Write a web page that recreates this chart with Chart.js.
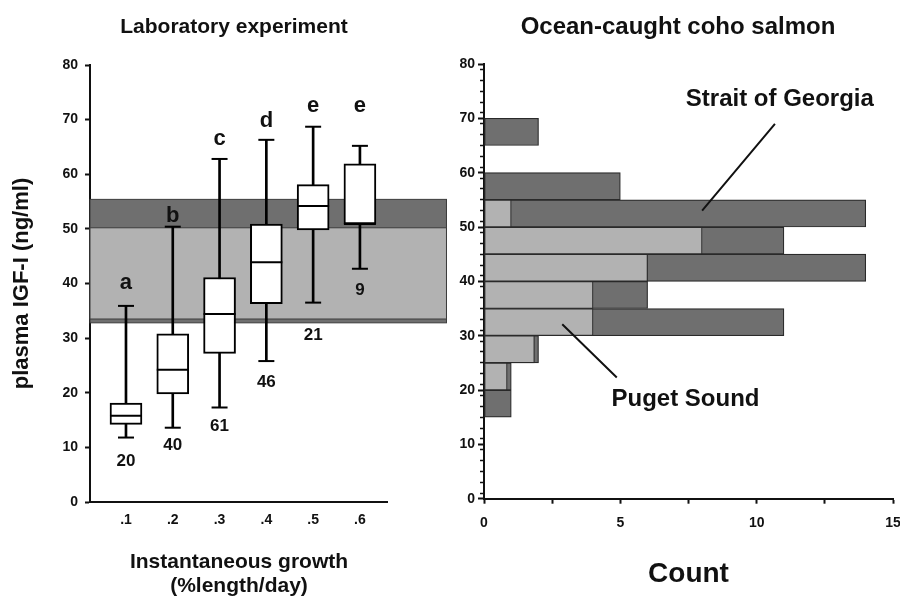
<!DOCTYPE html>
<html>
<head>
<meta charset="utf-8">
<title>IGF-I in coho salmon</title>
<script src="https://cdn.jsdelivr.net/npm/chart.js@4.4.1/dist/chart.umd.min.js"></script>
<style>
  html, body { margin: 0; padding: 0; background: #fff; }
  #wrap { position: relative; width: 900px; height: 598px; overflow: hidden; }
  #wrap canvas { position: absolute; top: 0; }
</style>
</head>
<body>
<div id="wrap">
  <canvas id="labChart" style="left:0px"></canvas>
  <canvas id="oceanChart" style="left:456px"></canvas>
</div>
<script>
// ---- laboratory experiment: box plots per growth class ----
const growthClasses = [0.1, 0.2, 0.3, 0.4, 0.5, 0.6];
const growthTickLabels = ['.1', '.2', '.3', '.4', '.5', '.6'];
const igfMin    = [11.8, 13.6, 17.3, 25.8, 36.5, 42.7];
const igfQ1     = [14.2, 19.8, 27.2, 36.3, 49.8, 50.9];
const igfMedian = [15.8, 24.2, 34.4, 43.9, 54.2, 50.9];
const igfQ3     = [18.1, 30.8, 41.1, 50.9, 58.1, 61.9];
const igfMax    = [35.9, 50.4, 62.8, 66.3, 68.7, 65.2];
const groupLetters = ['a', 'b', 'c', 'd', 'e', 'e'];
const groupN = [20, 40, 61, 46, 21, 9];
// where the annotations sit (ng/ml)
const letterAt = [40.1, 52.4, 66.5, 69.8, 72.5, 72.5];
const countAt  = [7.4, 10.3, 13.8, 22.0, 30.6, 38.7];

// ocean ranges shaded behind the box plots (ng/ml)
const georgiaRange = [32.8, 55.4];
const pugetRange   = [33.5, 50.2];

// ---- ocean-caught fish: histogram, 5 ng/ml bins ----
const binLow = [15, 20, 25, 30, 35, 40, 45, 50, 55, 60, 65];
const binWidth = 5;
const pugetCount   = [0, 0.85, 1.85, 4, 4, 6, 8, 1, 0, 0, 0];
const georgiaCount = [1, 1, 2, 11, 6, 14, 11, 14, 5, 0, 2];

const countTicks = [0, 5, 10, 15];

const FONT = '"Liberation Sans", Arial, Helvetica, sans-serif';
const DARK = '#6f6f6f';
const LIGHT = '#b2b2b2';
const EDGE = '#2a2a2a';

Chart.defaults.font.family = FONT;
Chart.defaults.font.weight = 'bold';
Chart.defaults.color = '#111';
Chart.defaults.animation = false;

// panel heading, placed by hand so it can sit off the plot centre
const panelTitle = {
  id: 'panelTitle',
  afterDraw(chart, args, opts) {
    const ctx = chart.ctx;
    ctx.save();
    ctx.fillStyle = '#111';
    ctx.font = 'bold ' + opts.size + 'px ' + FONT;
    ctx.textAlign = 'center';
    ctx.textBaseline = 'middle';
    ctx.fillText(opts.text, opts.x, opts.y);
    ctx.restore();
  }
};

// shaded bands + letters / n under the boxes
const labDecor = {
  id: 'labDecor',
  beforeDatasetsDraw(chart) {
    const {ctx, chartArea, scales: {x, y}} = chart;
    const right = x.getPixelForValue(0.785);
    const band = (r, fill) => {
      const top = y.getPixelForValue(r[1]);
      const bot = y.getPixelForValue(r[0]);
      ctx.fillStyle = fill;
      ctx.fillRect(chartArea.left, top, right - chartArea.left, bot - top);
      ctx.strokeStyle = '#3c3c3c';
      ctx.lineWidth = 1;
      ctx.strokeRect(chartArea.left, top, right - chartArea.left, bot - top);
    };
    ctx.save();
    band(georgiaRange, DARK);
    band(pugetRange, LIGHT);
    ctx.restore();
  },
  afterDatasetsDraw(chart) {
    const {ctx, scales: {x, y}} = chart;
    ctx.save();
    ctx.fillStyle = '#111';
    ctx.textAlign = 'center';
    ctx.textBaseline = 'middle';
    growthClasses.forEach((g, i) => {
      ctx.font = 'bold 22px ' + FONT;
      ctx.fillText(groupLetters[i], x.getPixelForValue(g), y.getPixelForValue(letterAt[i]));
      ctx.font = 'bold 17px ' + FONT;
      ctx.fillText(String(groupN[i]), x.getPixelForValue(g), y.getPixelForValue(countAt[i]));
    });
    // x axis line stops at the last class
    ctx.strokeStyle = '#111';
    ctx.lineWidth = 2;
    ctx.beginPath();
    ctx.moveTo(x.left, y.getPixelForValue(0));
    ctx.lineTo(x.right, y.getPixelForValue(0));
    ctx.stroke();
    ctx.restore();
  }
};

const boxData = growthClasses.map((g, i) => ({x: g, y: [igfQ1[i], igfQ3[i]]}));
const whiskerData = growthClasses.map((g, i) => ({x: g, y: [igfMin[i], igfMax[i]]}));
const capData = growthClasses.flatMap((g, i) => [{x: g, y: igfMin[i]}, {x: g, y: igfMax[i]}]);
const medianData = growthClasses.map((g, i) => ({x: g, y: igfMedian[i]}));

const labCanvas = document.getElementById('labChart');
labCanvas.width = 468; labCanvas.height = 598;
labCanvas.style.width = '468px'; labCanvas.style.height = '598px';

new Chart(labCanvas, {
  data: {
    datasets: [
      { type: 'scatter', label: 'median', data: medianData, order: 0,
        pointStyle: 'line', radius: 16, borderWidth: 2, borderColor: '#000' },
      { type: 'bar', label: 'box', data: boxData, order: 1, grouped: false,
        barThickness: 32, backgroundColor: '#fff', borderColor: '#000',
        borderWidth: 2, borderSkipped: false },
      { type: 'scatter', label: 'caps', data: capData, order: 2,
        pointStyle: 'line', radius: 8, borderWidth: 2, borderColor: '#000' },
      { type: 'bar', label: 'whisker', data: whiskerData, order: 3, grouped: false,
        barThickness: 2, backgroundColor: '#000', borderWidth: 0 }
    ]
  },
  options: {
    responsive: false,
    layout: { padding: { top: 65, right: 80 } },
    plugins: {
      legend: { display: false },
      tooltip: { enabled: false },
      title: { display: false },
      panelTitle: { text: 'Laboratory experiment', x: 234, y: 27, size: 21 }
    },
    scales: {
      x: {
        type: 'linear', min: 0.0231, max: 0.66, offset: false,
        afterBuildTicks: s => { s.ticks = growthClasses.map(v => ({value: v})); },
        afterFit: s => { s.height = 96; },
        ticks: {
          callback: (v) => growthTickLabels[growthClasses.indexOf(v)],
          font: { size: 14, weight: 'bold' }, padding: 10, maxRotation: 0
        },
        grid: { display: false, drawTicks: false, offset: false },
        border: { display: false },
        title: {
          display: true, text: ['Instantaneous growth', '(%length/day)'],
          font: { size: 21, weight: 'bold', lineHeight: 1.15 },
          padding: { bottom: 0 }, color: '#111'
        }
      },
      y: {
        min: 0, max: 80,
        afterFit: s => { s.width = 90; },
        ticks: { stepSize: 10, font: { size: 14, weight: 'bold' }, padding: 7 },
        grid: { drawOnChartArea: false, tickLength: 5, tickColor: '#111', tickWidth: 2 },
        border: { color: '#111', width: 2 },
        title: {
          display: true, text: 'plasma IGF-I (ng/ml)',
          font: { size: 22, weight: 'bold', lineHeight: 1.2 },
          padding: { top: 9 }, color: '#111'
        }
      }
    }
  },
  plugins: [labDecor, panelTitle]
});

// ---- histogram panel ----
const oceanNotes = {
  id: 'oceanNotes',
  afterDatasetsDraw(chart) {
    const {ctx, scales: {x, y}} = chart;
    ctx.save();
    ctx.fillStyle = '#111';
    ctx.strokeStyle = '#111';
    ctx.lineWidth = 2;
    ctx.textAlign = 'center';
    ctx.textBaseline = 'middle';
    ctx.font = 'bold 24px ' + FONT;
    ctx.fillText('Strait of Georgia', x.getPixelForValue(10.85), y.getPixelForValue(73.4));
    ctx.fillText('Puget Sound', x.getPixelForValue(7.39), y.getPixelForValue(18.2));
    ctx.beginPath();
    ctx.moveTo(x.getPixelForValue(10.67), y.getPixelForValue(69.0));
    ctx.lineTo(x.getPixelForValue(8.0), y.getPixelForValue(53.0));
    ctx.moveTo(x.getPixelForValue(2.87), y.getPixelForValue(32.1));
    ctx.lineTo(x.getPixelForValue(4.87), y.getPixelForValue(22.3));
    ctx.stroke();
    ctx.restore();
  }
};

const oceanCanvas = document.getElementById('oceanChart');
oceanCanvas.width = 494; oceanCanvas.height = 598;
oceanCanvas.style.width = '494px'; oceanCanvas.style.height = '598px';

new Chart(oceanCanvas, {
  type: 'bar',
  data: {
    datasets: [
      { label: 'Puget Sound', order: 0,
        data: binLow.map((b, i) => ({y: b + binWidth / 2, x: pugetCount[i]})),
        backgroundColor: LIGHT, borderColor: EDGE, borderWidth: 1.2, borderSkipped: false },
      { label: 'Strait of Georgia', order: 1,
        data: binLow.map((b, i) => ({y: b + binWidth / 2, x: georgiaCount[i]})),
        backgroundColor: DARK, borderColor: EDGE, borderWidth: 1.2, borderSkipped: false }
    ]
  },
  options: {
    responsive: false,
    indexAxis: 'y',
    grouped: false,
    barPercentage: 1,
    categoryPercentage: 1,
    layout: { padding: { top: 64, right: 57 } },
    plugins: {
      legend: { display: false },
      tooltip: { enabled: false },
      title: { display: false },
      panelTitle: { text: 'Ocean-caught coho salmon', x: 222, y: 27, size: 24 }
    },
    scales: {
      x: {
        type: 'linear', min: 0, max: 15, offset: false,
        afterFit: s => { s.height = 99.3; s.paddingRight = 0; s.paddingLeft = 0; },
        ticks: {
          stepSize: 2.5,
          callback: v => countTicks.includes(v) ? String(v) : '',
          font: { size: 14, weight: 'bold' }, padding: 11, maxRotation: 0, autoSkip: false
        },
        grid: { drawOnChartArea: false, tickLength: 5, tickColor: '#111', tickWidth: 2 },
        border: { color: '#111', width: 2 },
        title: {
          display: true, text: 'Count',
          font: { size: 28, weight: 'bold', lineHeight: 1.2 },
          padding: { bottom: 7 }, color: '#111'
        }
      },
      y: {
        type: 'linear', min: 0, max: 80, offset: false, weight: 1,
        afterFit: s => { s.width = 28; },
        ticks: { stepSize: 10, font: { size: 14, weight: 'bold' }, padding: 3 },
        grid: {
          drawOnChartArea: false, offset: false, tickLength: 6,
          tickColor: '#111', tickWidth: 2
        },
        border: { color: '#111', width: 2 }
      },
      // minor ticks every 2 ng/ml, kept off the bars' own axis
      yMinor: {
        type: 'linear', position: 'left', min: 0, max: 80, offset: false, weight: 0,
        afterFit: s => { s.width = 0; },
        ticks: { stepSize: 2, display: false },
        grid: {
          drawOnChartArea: false, tickLength: 4, tickColor: '#111', tickWidth: 1.5
        },
        border: { display: false }
      }
    }
  },
  plugins: [oceanNotes, panelTitle]
});
</script>
</body>
</html>
